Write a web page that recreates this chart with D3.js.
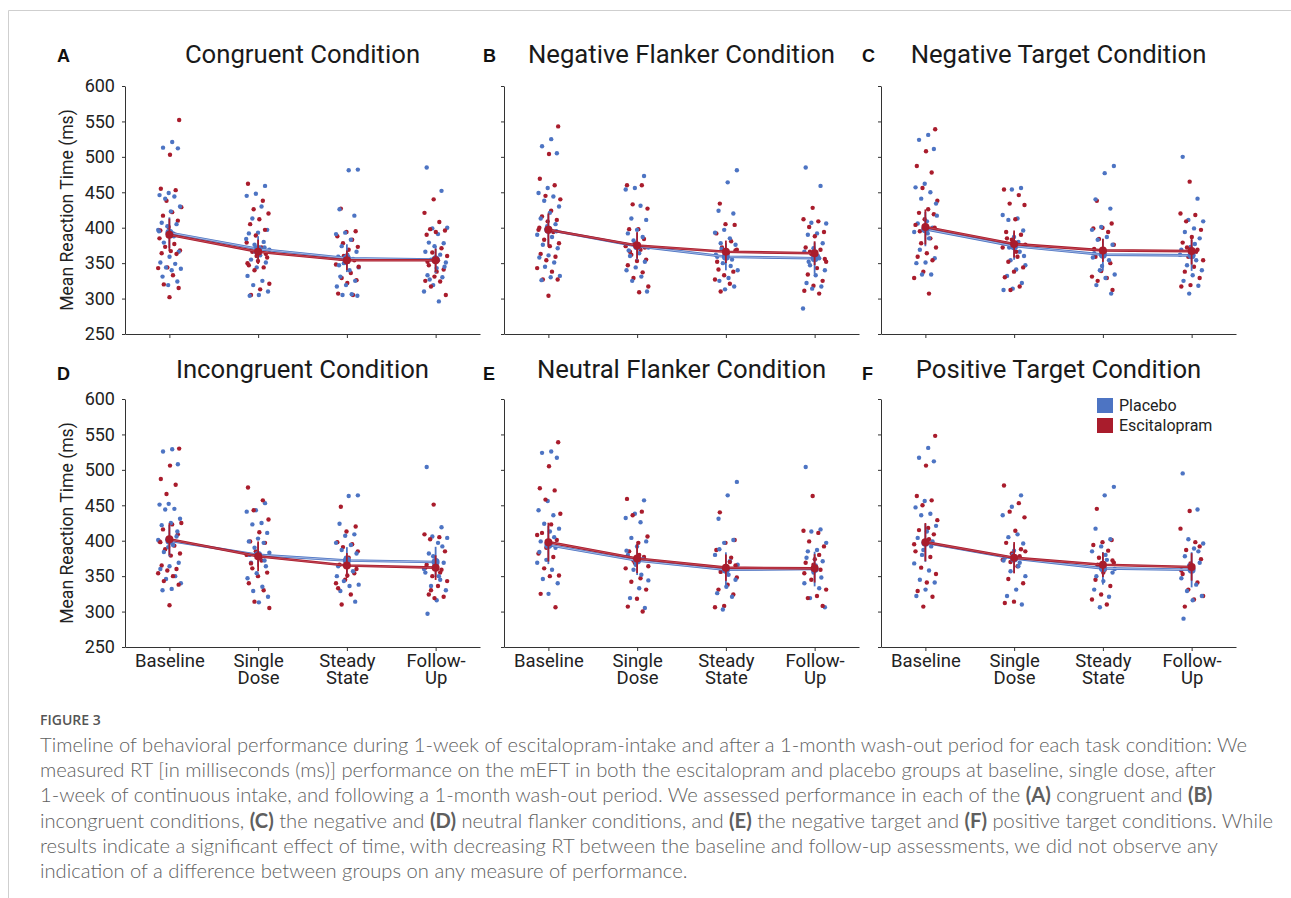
<!DOCTYPE html>
<html>
<head>
<meta charset="utf-8">
<script src="https://cdn.jsdelivr.net/npm/d3@7"></script>
<style>
  body { margin: 0; background: #fff; }
  svg { display: block; }
  .tick text { font-family: Roboto, sans-serif; fill: #222; }
</style>
</head>
<body>
<script>
// categories
const timepoints = ["Baseline", "Single Dose", "Steady State", "Follow-Up"];
const tickLines = [["Baseline"], ["Single", "Dose"], ["Steady", "State"], ["Follow-", "Up"]];
const groups = ["Placebo", "Escitalopram"];
const conditions = [
  "Congruent Condition", "Negative Flanker Condition", "Negative Target Condition",
  "Incongruent Condition", "Neutral Flanker Condition", "Positive Target Condition"
];
const panelLetters = ["A", "B", "C", "D", "E", "F"];
const yTicks = [250, 300, 350, 400, 450, 500, 550, 600];

// (A) congruent - individual mean RTs per timepoint
const congruentPlacebo = [
  [521, 513, 512, 449, 446, 444, 441, 430, 423, 407, 405, 402, 397, 392, 379, 366, 359, 351, 349, 344, 342, 340, 331, 324, 319, 395, 388],
  [459, 448, 445, 430, 413, 397, 393, 392, 380, 376, 369, 361, 355, 351, 344, 332, 325, 319, 310, 305, 304, 372, 366, 384],
  [482, 481, 426, 417, 393, 391, 383, 374, 366, 362, 359, 356, 350, 344, 340, 331, 325, 319, 317, 306, 305, 304, 352, 347],
  [485, 452, 399, 400, 391, 379, 378, 374, 366, 362, 355, 351, 343, 333, 330, 319, 310, 296, 327, 345, 358]
];
const congruentEscitalopram = [
  [552, 503, 455, 453, 438, 429, 422, 417, 410, 401, 385, 377, 373, 368, 367, 364, 363, 344, 343, 333, 320, 315, 302, 396, 390],
  [462, 438, 426, 420, 412, 405, 397, 389, 379, 372, 366, 358, 353, 347, 344, 340, 321, 313, 305, 363, 360, 350],
  [427, 395, 394, 388, 383, 378, 373, 369, 357, 354, 351, 348, 336, 329, 326, 322, 307, 305, 360, 345],
  [440, 421, 408, 398, 396, 394, 390, 371, 365, 360, 354, 347, 341, 331, 325, 324, 317, 305, 338, 352]
];
const congruentMeanPlacebo = [393, 370, 357, 355];
const congruentMeanEscitalopram = [390, 366, 354, 354];

// (B) negative flanker
const negFlankerPlacebo = [
  [525, 515, 505, 456, 449, 444, 438, 430, 421, 413, 405, 398, 390, 387, 376, 371, 361, 358, 351, 345, 332, 330, 326, 395, 402],
  [473, 456, 454, 431, 413, 411, 397, 392, 387, 382, 372, 364, 360, 352, 344, 340, 331, 325, 310, 376, 368],
  [481, 464, 424, 420, 397, 393, 385, 378, 376, 366, 359, 355, 350, 340, 329, 325, 317, 313, 362, 346, 370],
  [485, 459, 407, 406, 392, 390, 378, 371, 366, 357, 347, 340, 333, 322, 317, 314, 286, 360, 352]
];
const negFlankerEscitalopram = [
  [543, 504, 469, 460, 445, 440, 424, 416, 411, 409, 397, 394, 383, 378, 374, 363, 359, 354, 343, 338, 327, 327, 304, 400],
  [460, 460, 433, 427, 398, 398, 384, 378, 374, 369, 362, 355, 353, 347, 337, 329, 317, 309, 366, 372],
  [434, 404, 405, 392, 381, 372, 369, 364, 341, 338, 333, 327, 321, 310, 368, 359, 352],
  [428, 412, 409, 401, 394, 388, 372, 369, 363, 352, 343, 334, 325, 318, 311, 307, 366, 356]
];
const negFlankerMeanPlacebo = [397, 374, 359, 357];
const negFlankerMeanEscitalopram = [397, 375, 366, 364];

// (C) negative target
const negTargetPlacebo = [
  [531, 524, 511, 462, 457, 450, 441, 434, 409, 406, 400, 397, 394, 385, 369, 357, 351, 350, 334, 334, 417, 392],
  [456, 454, 418, 413, 411, 396, 387, 378, 366, 354, 347, 341, 332, 322, 314, 312, 380, 372, 360],
  [487, 477, 440, 427, 401, 397, 387, 383, 376, 369, 364, 354, 340, 334, 329, 319, 307, 346, 358],
  [500, 441, 411, 409, 399, 394, 385, 373, 369, 354, 347, 340, 333, 325, 318, 307, 362, 377]
];
const negTargetEscitalopram = [
  [539, 508, 487, 478, 456, 438, 426, 421, 419, 412, 404, 385, 378, 372, 364, 359, 354, 338, 329, 307, 395, 400],
  [454, 446, 434, 432, 412, 394, 390, 383, 372, 359, 352, 344, 338, 330, 317, 312, 376, 366, 385],
  [438, 406, 400, 399, 394, 384, 376, 366, 359, 350, 339, 331, 329, 325, 312, 360, 370],
  [465, 420, 418, 409, 397, 387, 379, 369, 359, 354, 345, 338, 329, 319, 317, 366, 372]
];
const negTargetMeanPlacebo = [398, 374, 362, 361];
const negTargetMeanEscitalopram = [401, 377, 368, 367];

// (D) incongruent
const incongruentPlacebo = [
  [529, 526, 508, 452, 451, 445, 444, 431, 425, 422, 406, 402, 401, 394, 384, 369, 364, 360, 350, 346, 340, 332, 330, 413, 391],
  [453, 443, 441, 425, 423, 411, 403, 399, 397, 390, 383, 376, 369, 364, 354, 347, 335, 329, 321, 313, 380, 372],
  [464, 463, 424, 409, 407, 397, 394, 387, 382, 371, 364, 357, 343, 338, 336, 329, 314, 376, 350],
  [504, 419, 406, 404, 397, 382, 369, 364, 355, 345, 336, 330, 316, 297, 392, 378, 360, 350]
];
const incongruentEscitalopram = [
  [530, 506, 487, 479, 466, 425, 423, 416, 409, 404, 399, 393, 388, 382, 379, 365, 360, 358, 354, 350, 343, 338, 309, 398],
  [475, 457, 443, 430, 412, 399, 397, 385, 380, 372, 361, 355, 350, 340, 330, 314, 305, 376, 368],
  [448, 420, 413, 398, 395, 391, 385, 376, 366, 354, 345, 340, 324, 310, 360, 351, 333],
  [451, 409, 405, 402, 385, 372, 366, 359, 350, 343, 336, 324, 321, 319, 362, 355, 330]
];
const incongruentMeanPlacebo = [400, 380, 372, 370];
const incongruentMeanEscitalopram = [402, 378, 365, 362];

// (E) neutral flanker
const neutFlankerPlacebo = [
  [526, 524, 517, 456, 443, 436, 424, 417, 413, 399, 390, 373, 369, 359, 346, 340, 325, 384, 405],
  [457, 438, 432, 426, 404, 399, 392, 380, 374, 359, 344, 333, 319, 305, 366, 386, 352],
  [483, 464, 431, 401, 397, 380, 371, 359, 345, 335, 326, 321, 303, 366, 352, 388],
  [504, 416, 413, 397, 387, 385, 371, 355, 340, 333, 319, 306, 365, 376, 348]
];
const neutFlankerEscitalopram = [
  [539, 505, 474, 471, 458, 438, 423, 411, 401, 394, 382, 377, 361, 351, 350, 325, 306, 390, 408],
  [459, 441, 436, 406, 397, 385, 377, 369, 361, 347, 342, 331, 318, 307, 300, 372, 364, 380],
  [440, 401, 397, 387, 376, 361, 348, 338, 331, 324, 308, 306, 370, 356, 365],
  [463, 414, 411, 399, 392, 374, 369, 359, 345, 331, 322, 319, 308, 366, 354, 380]
];
const neutFlankerMeanPlacebo = [394, 372, 359, 360];
const neutFlankerMeanEscitalopram = [398, 375, 362, 361];

// (F) positive target
const posTargetPlacebo = [
  [531, 517, 512, 456, 447, 438, 436, 421, 413, 404, 399, 387, 368, 358, 345, 341, 331, 322, 392, 380],
  [464, 448, 436, 409, 405, 396, 386, 376, 369, 357, 350, 331, 322, 310, 380, 372, 364],
  [476, 464, 417, 402, 392, 385, 373, 365, 355, 343, 331, 321, 306, 360, 380, 350],
  [495, 444, 402, 396, 389, 378, 369, 359, 347, 338, 329, 322, 316, 290, 385, 365]
];
const posTargetEscitalopram = [
  [548, 506, 463, 457, 450, 429, 418, 415, 409, 397, 385, 377, 362, 353, 341, 329, 321, 307, 395, 402],
  [478, 453, 441, 433, 414, 397, 388, 382, 373, 364, 346, 340, 314, 312, 378, 370, 385],
  [445, 401, 398, 394, 386, 376, 369, 359, 345, 336, 324, 317, 310, 366, 372, 355],
  [442, 417, 398, 387, 374, 362, 353, 341, 331, 322, 317, 307, 392, 368, 358]
];
const posTargetMeanPlacebo = [397, 375, 361, 359];
const posTargetMeanEscitalopram = [398, 376, 366, 363];

const panels = [
  { placebo: congruentPlacebo, esc: congruentEscitalopram, mPlacebo: congruentMeanPlacebo, mEsc: congruentMeanEscitalopram },
  { placebo: negFlankerPlacebo, esc: negFlankerEscitalopram, mPlacebo: negFlankerMeanPlacebo, mEsc: negFlankerMeanEscitalopram },
  { placebo: negTargetPlacebo, esc: negTargetEscitalopram, mPlacebo: negTargetMeanPlacebo, mEsc: negTargetMeanEscitalopram },
  { placebo: incongruentPlacebo, esc: incongruentEscitalopram, mPlacebo: incongruentMeanPlacebo, mEsc: incongruentMeanEscitalopram },
  { placebo: neutFlankerPlacebo, esc: neutFlankerEscitalopram, mPlacebo: neutFlankerMeanPlacebo, mEsc: neutFlankerMeanEscitalopram },
  { placebo: posTargetPlacebo, esc: posTargetEscitalopram, mPlacebo: posTargetMeanPlacebo, mEsc: posTargetMeanEscitalopram }
];

const captionLines = [
  "Timeline of behavioral performance during 1-week of escitalopram-intake and after a 1-month wash-out period for each task condition: We",
  "measured RT [in milliseconds (ms)] performance on the mEFT in both the escitalopram and placebo groups at baseline, single dose, after",
  "1-week of continuous intake, and following a 1-month wash-out period. We assessed performance in each of the (A) congruent and (B)",
  "incongruent conditions, (C) the negative and (D) neutral flanker conditions, and (E) the negative target and (F) positive target conditions. While",
  "results indicate a significant effect of time, with decreasing RT between the baseline and follow-up assessments, we did not observe any",
  "indication of a difference between groups on any measure of performance."
];

const colors = { placebo: "#4d74c3", esc: "#a91c2c" };

// layout
const colLeft = [125, 504, 881];
const rowTop = [86, 399];
const plotW = 355;
const plotH = 248;

const svg = d3.select("body").append("svg").attr("width", 1291).attr("height", 898);

// page frame
svg.append("path")
  .attr("d", "M8.5,898V10.5H1291")
  .attr("fill", "none")
  .attr("stroke", "#cfcfcf");

const x = d3.scalePoint().domain(timepoints).range([0, plotW]).padding(0.5);
const y = d3.scaleLinear().domain([250, 600]).range([plotH, 0]);

// deterministic spread of dots around each category
const jitter = (i, gi, k) => {
  const u = ((i + 1) * 0.6180339887 + gi * 0.29 + k * 0.17) % 1;
  return (u - 0.5) * 24;
};
const ci = (v) => 1.96 * d3.deviation(v) / Math.sqrt(v.length);

panels.forEach((p, i) => {
  const col = i % 3;
  const row = Math.floor(i / 3);
  const g = svg.append("g").attr("transform", `translate(${colLeft[col]},${rowTop[row]})`);

  // title + letter
  g.append("text")
    .attr("x", plotW / 2)
    .attr("y", row === 0 ? -23 : -21)
    .attr("text-anchor", "middle")
    .style("font-family", "Roboto, sans-serif")
    .style("font-size", "25.7px")
    .attr("fill", "#1a1a1a")
    .text(conditions[i]);
  g.append("text")
    .attr("x", [57, 483, 862][col] - colLeft[col])
    .attr("y", row === 0 ? -24 : -19)
    .style("font-family", "'Liberation Sans', Arial, sans-serif")
    .style("font-size", "18px")
    .style("font-weight", "bold")
    .attr("fill", "#111")
    .text(panelLetters[i]);

  // axes
  const yAxis = d3.axisLeft(y).tickValues(yTicks).tickSize(3).tickSizeOuter(0).tickPadding(7);
  if (col > 0) yAxis.tickFormat("");
  const yg = g.append("g").call(yAxis);
  yg.selectAll(".tick text").style("font-size", "18px");

  const xAxis = d3.axisBottom(x).tickSize(4).tickSizeOuter(0).tickPadding(6);
  const xg = g.append("g").attr("transform", `translate(0,${plotH})`).call(xAxis);
  xg.selectAll(".tick text").each(function (d, k) {
    const t = d3.select(this).text(null);
    if (row === 0) return;
    tickLines[k].forEach((line, li) => {
      t.append("tspan").attr("x", 0).attr("dy", li === 0 ? "0.71em" : "17px").text(line);
    });
  }).style("font-size", "18.5px").attr("y", 7);
  [yg, xg].forEach(a => {
    a.select(".domain").attr("stroke", "#333");
    a.selectAll(".tick line").attr("stroke", "#333");
  });

  if (col === 0) {
    g.append("text")
      .attr("transform", `translate(-52,${plotH / 2}) rotate(-90)`)
      .attr("text-anchor", "middle")
      .style("font-family", "Roboto, sans-serif")
      .style("font-size", "17.6px")
      .attr("fill", "#222")
      .text("Mean Reaction Time (ms)");
  }

  // individual dots
  const dots = [];
  timepoints.forEach((tp, k) => {
    p.placebo[k].forEach((v, j) => dots.push({ tp, v, c: colors.placebo, dx: jitter(j, 0, k), o: j * 2 }));
    p.esc[k].forEach((v, j) => dots.push({ tp, v, c: colors.esc, dx: jitter(j, 1, k), o: j * 2 + 1 }));
  });
  dots.sort((a, b) => a.o - b.o);
  g.append("g").selectAll("circle")
    .data(dots)
    .join("circle")
    .attr("cx", d => x(d.tp) + d.dx)
    .attr("cy", d => y(d.v))
    .attr("r", 2.2)
    .attr("fill", d => d.c);

  // group means with CI bars
  const line = d3.line().x((d, k) => x(timepoints[k])).y(d => y(d));
  [[p.mPlacebo, p.placebo, colors.placebo], [p.mEsc, p.esc, colors.esc]].forEach(([m, raw, c], gi) => {
    const mg = g.append("g");
    mg.append("path").attr("d", line(m)).attr("fill", "none").attr("stroke", c).attr("stroke-width", 2.6);
    mg.append("path").attr("d", line(m)).attr("fill", "none")
      .attr("stroke", gi === 0 ? "#b9c8ea" : "#c65260").attr("stroke-width", 0.8);
    mg.selectAll("line.ci")
      .data(m)
      .join("line")
      .attr("class", "ci")
      .attr("x1", (d, k) => x(timepoints[k]))
      .attr("x2", (d, k) => x(timepoints[k]))
      .attr("y1", (d, k) => y(d + ci(raw[k])))
      .attr("y2", (d, k) => y(d - ci(raw[k])))
      .attr("stroke", c)
      .attr("stroke-width", 1.8);
    mg.selectAll("circle")
      .data(m)
      .join("circle")
      .attr("cx", (d, k) => x(timepoints[k]))
      .attr("cy", d => y(d))
      .attr("r", 4)
      .attr("fill", c);
  });

  // legend in panel F
  if (i === 5) {
    const lg = g.append("g").attr("transform", `translate(${1097 - colLeft[col]},${398 - rowTop[row]})`);
    groups.forEach((name, gi) => {
      lg.append("rect").attr("x", 0).attr("y", gi * 20).attr("width", 16).attr("height", 15)
        .attr("fill", gi === 0 ? colors.placebo : colors.esc);
      lg.append("text").attr("x", 22).attr("y", gi * 20 + 13)
        .style("font-family", "Roboto, sans-serif").style("font-size", "16px").attr("fill", "#222")
        .text(name);
    });
  }
});

// caption
svg.append("text")
  .attr("x", 40).attr("y", 725)
  .style("font-family", "'Open Sans', sans-serif")
  .style("font-size", "14px")
  .style("font-weight", 600)
  .attr("fill", "#555")
  .text("FIGURE 3");

const cap = svg.append("g")
  .style("font-family", "Lato, 'Open Sans', sans-serif")
  .style("font-weight", 300)
  .attr("fill", "#5f5f5f");
const capTexts = captionLines.map((ln, li) => {
  const t = cap.append("text").attr("x", 40).attr("y", 752 + li * 25.2);
  ln.split(/(\([A-F]\))/).forEach(part => {
    if (!part) return;
    t.append("tspan").style("font-weight", /^\([A-F]\)$/.test(part) ? "bold" : null).text(part);
  });
  return t;
});
// fit first line to the reference width
cap.style("font-size", "16px");
const w0 = capTexts[0].node().getComputedTextLength();
cap.style("font-size", (16 * 1208 / w0).toFixed(2) + "px");
</script>
</body>
</html>
